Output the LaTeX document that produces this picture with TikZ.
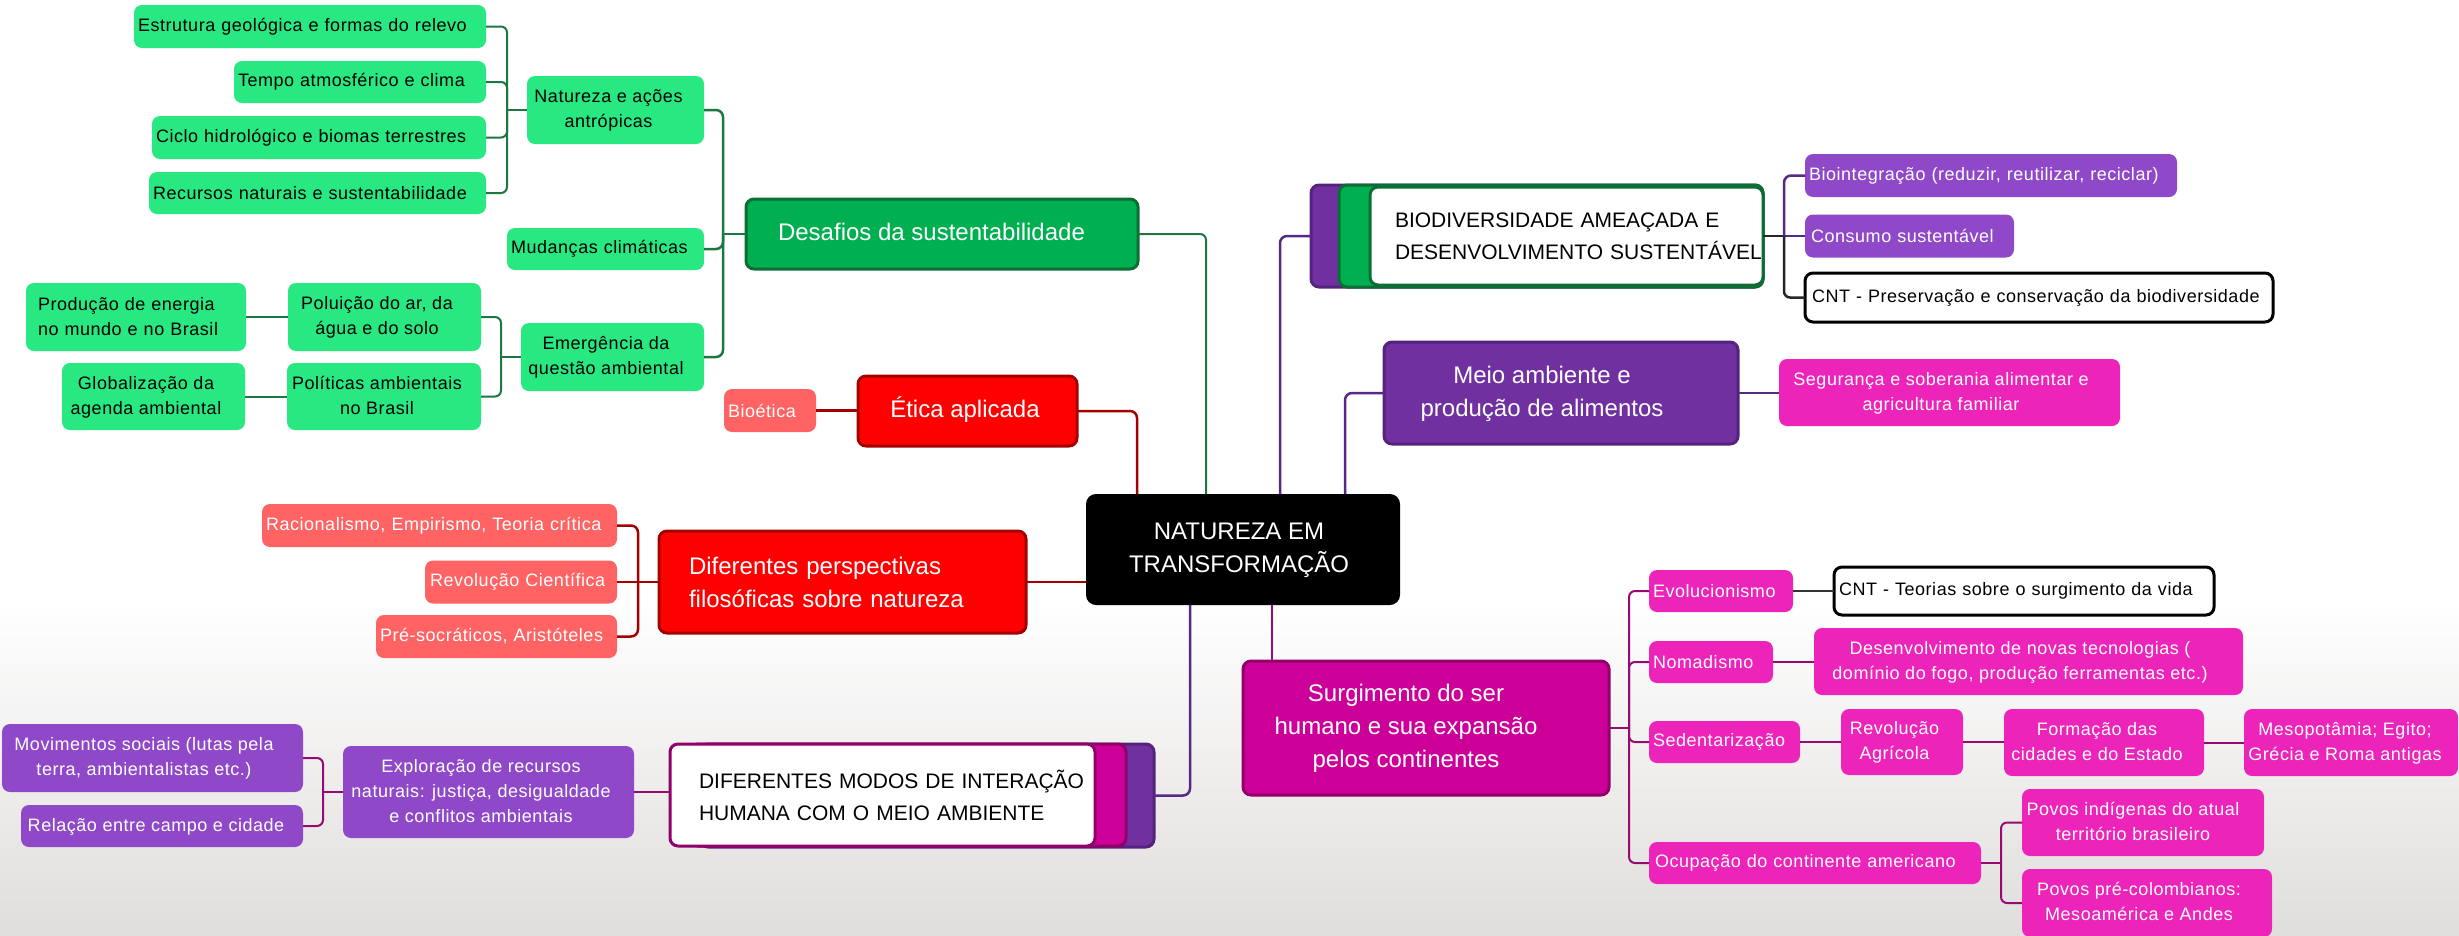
\documentclass[tikz,border=0pt]{standalone}
\usepackage{fontspec}
\setmainfont{Liberation Sans}
\newfontfamily\smf{Liberation Sans}[LetterSpace=3]
\usetikzlibrary{calc}
\definecolor{lgreen}{RGB}{40,233,129}
\definecolor{dgreen}{RGB}{0,176,80}
\definecolor{dgreenB}{RGB}{12,110,52}
\definecolor{glineC}{RGB}{28,120,66}
\definecolor{salmon}{RGB}{255,99,99}
\definecolor{redF}{RGB}{255,0,0}
\definecolor{redB}{RGB}{165,0,0}
\definecolor{purp}{RGB}{112,48,160}
\definecolor{purpB}{RGB}{85,34,125}
\definecolor{lpurp}{RGB}{143,72,200}
\definecolor{mag}{RGB}{204,0,153}
\definecolor{magB}{RGB}{145,0,105}
\definecolor{lmag}{RGB}{236,36,186}
\definecolor{plineC}{RGB}{88,40,135}
\definecolor{mlineC}{RGB}{150,10,115}
\definecolor{bgGray}{RGB}{224,222,220}
\newcommand\myfs[2]{\fontsize{#1}{#2}\selectfont}
\newcommand\ctab[2]{\begin{tabular}{@{}c@{\hspace{#1pt}}}#2\end{tabular}}
\newcommand\ind[1]{\hspace*{#1pt}}
\begin{document}
\begin{tikzpicture}[x=1pt,y=-1pt,
  bx/.style={rounded corners=8pt, inner sep=0pt, outer sep=0pt},
  sz/.style 2 args={minimum width=#1pt, minimum height=#2pt},
  lft/.style={inner xsep=4pt, text width=#1pt, align=left},
  sm/.style={font=\smf\myfs{18}{25}},
  bg/.style={font=\myfs{24}{33}},
  cp/.style={font=\myfs{21}{32}},
  gbox/.style={bx, sm, fill=lgreen, text=black},
  dgbox/.style={bx, bg, fill=dgreen, draw=dgreenB, line width=3pt, text=white},
  salbox/.style={bx, sm, fill=salmon, text=white},
  rbox/.style={bx, bg, fill=redF, draw=redB, line width=3pt, text=white},
  cbox/.style={bx, bg, fill=black, text=white, rounded corners=10pt},
  pbox/.style={bx, bg, fill=purp, draw=purpB, line width=3pt, text=white},
  lpbox/.style={bx, sm, fill=lpurp, text=white},
  lmbox/.style={bx, sm, fill=lmag, text=white},
  mbox/.style={bx, bg, fill=mag, draw=magB, line width=3pt, text=white},
  wgbox/.style={bx, cp, fill=white, draw=dgreenB, line width=3pt, text=black},
  wmbox/.style={bx, cp, fill=white, draw=magB, line width=3pt, text=black},
  wkbox/.style={bx, sm, fill=white, draw=black, line width=3pt, text=black},
  gl/.style={draw=glineC, line width=2pt, rounded corners=6pt},
  gT/.style={draw=glineC, line width=2.5pt, rounded corners=7pt},
  rl/.style={draw=redB, line width=2.5pt, rounded corners=7pt},
  pl/.style={draw=plineC, line width=2.5pt, rounded corners=7pt},
  ml/.style={draw=mlineC, line width=2pt, rounded corners=6pt},
  kl/.style={draw=black!85, line width=2.5pt, rounded corners=6pt}
]
\useasboundingbox (0,0) rectangle (2459,935);
\fill[white] (0,0) rectangle (2459,935);
\shade[top color=white, bottom color=bgGray] (0,600) rectangle (2459,935);

% ---------- green ----------
\node[gbox, sz={352}{43}, lft=344] (estr) at (310,26.5) {Estrutura geológica e formas do relevo};
\node[gbox, sz={252}{42}, lft=244] (tempo) at (360,82) {Tempo atmosférico e clima};
\node[gbox, sz={334}{43}, lft=326] (ciclo) at (319,137.5) {Ciclo hidrológico e biomas terrestres};
\node[gbox, sz={337}{42}, lft=329] (recur) at (317.5,193) {Recursos naturais e sustentabilidade};
\node[gbox, sz={177}{68}] (natur) at (615.5,110) {\ctab{14}{Natureza e ações\\antrópicas}};
\node[gbox, sz={197}{42}, lft=189] (mudan) at (605.5,249) {Mudanças climáticas};
\node[gbox, sz={183}{68}] (emerg) at (612.5,357) {\ctab{13}{Emergência da\\questão ambiental}};
\node[gbox, sz={193}{68}] (polu) at (384.5,317) {\ctab{15}{Poluição do ar, da\\água e do solo}};
\node[gbox, sz={220}{68}, lft=212] (prod) at (136,317) {\ind{8}Produção de energia\\\ind{8}no mundo e no Brasil};
\node[gbox, sz={194}{67}] (polit) at (384,396.5) {\ctab{14}{Políticas ambientais\\no Brasil}};
\node[gbox, sz={183}{67}] (glob) at (153.5,396.5) {\ctab{15}{Globalização da\\agenda ambiental}};
\node[dgbox, sz={392}{70}] (desaf) at (942,234) {\ctab{21}{Desafios da sustentabilidade}};

% ---------- red ----------
\node[salbox, sz={92}{43}, lft=84] (bioet) at (770,410.5) {Bioética};
\node[rbox, sz={219}{70}] (etica) at (967.5,411) {\ctab{5}{Ética aplicada}};
\node[rbox, sz={367}{102}, lft=359] (difp) at (842.5,582) {\ind{26}Diferentes perspectivas\\\ind{26}filosóficas sobre natureza};
\node[salbox, sz={355}{43}, lft=347] (racio) at (439.5,525.5) {\mbox{Racionalismo, Empirismo, Teoria crítica}};
\node[salbox, sz={192}{43}, lft=184] (revci) at (521,582) {\ind{1}Revolução Científica};
\node[salbox, sz={241}{43}, lft=233] (preso) at (496.5,636.5) {Pré-socráticos, Aristóteles};

% ---------- center ----------
\node[cbox, sz={314}{111}] (ctr) at (1243,549.5) {\ctab{8}{NATUREZA EM\\TRANSFORMAÇÃO}};

% ---------- purple (upper right) ----------
\node[pbox, sz={354}{102}] (meio) at (1561,393) {\ctab{38}{Meio ambiente e\\produção de alimentos}};
\node[lmbox, sz={341}{67}] (segur) at (1949.5,392.5) {\ctab{17}{Segurança e soberania alimentar e\\agricultura familiar}};
\node[pbox, sz={452}{102}] (bioP) at (1537,236) {};
\node[dgbox, sz={424}{102}] (bioG) at (1551,236) {};
\node[wgbox, sz={393}{98}, lft=385] (bioW) at (1566.5,236) {\ind{21}\mbox{BIODIVERSIDADE AMEAÇADA E}\\\ind{21}\mbox{DESENVOLVIMENTO SUSTENTÁVEL}};
\node[lpbox, sz={372}{43}, lft=364] (bioin) at (1991,175.5) {\mbox{Biointegração (reduzir, reutilizar, reciclar)}};
\node[lpbox, sz={209}{43}, lft=201] (consu) at (1909.5,236) {\ind{2}Consumo sustentável};
\node[wkbox, sz={468}{49}, lft=460] (cntp) at (2039,297.5) {\ind{3}\mbox{CNT - Preservação e conservação da biodiversidade}};

% ---------- lower left ----------
\node[pbox, sz={454}{103}] (difmP) at (927,795.5) {};
\node[mbox, sz={436}{102}] (difmM) at (908,795) {};
\node[wmbox, sz={425}{102}, lft=417] (difmW) at (882.5,795) {\ind{25}\mbox{DIFERENTES MODOS DE INTERAÇÃO}\\\ind{25}\mbox{HUMANA COM O MEIO AMBIENTE}};
\node[lpbox, sz={291}{92}] (explo) at (488.5,792) {\ctab{15}{Exploração de recursos\\naturais: justiça, desigualdade\\e conflitos ambientais}};
\node[lpbox, sz={301}{68}] (movim) at (152.5,758) {\ctab{17}{Movimentos sociais (lutas pela\\terra, ambientalistas etc.)}};
\node[lpbox, sz={282}{42}] (relac) at (162,826) {\ctab{12}{Relação entre campo e cidade}};

% ---------- magenta ----------
\node[mbox, sz={366}{134}] (surg) at (1426,728) {\ctab{40}{Surgimento do ser\\humano e sua expansão\\pelos continentes}};
\node[lmbox, sz={144}{42}, lft=136] (evol) at (1721,591) {Evolucionismo};
\node[wkbox, sz={380}{48}, lft=372] (cntt) at (2024,591) {\ind{1}\mbox{CNT - Teorias sobre o surgimento da vida}};
\node[lmbox, sz={124}{42}, lft=116] (nomad) at (1711,662) {Nomadismo};
\node[lmbox, sz={429}{67}] (desen) at (2028.5,661.5) {\ctab{17}{Desenvolvimento de novas tecnologias (\\domínio do fogo, produção ferramentas etc.)}};
\node[lmbox, sz={151}{42}, lft=143] (sedent) at (1724.5,742) {Sedentarização};
\node[lmbox, sz={122}{66}] (revag) at (1902,742) {\ctab{15}{Revolução\\Agrícola}};
\node[lmbox, sz={200}{67}] (forma) at (2104,742.5) {\ctab{14}{Formação das\\cidades e do Estado}};
\node[lmbox, sz={214}{67}] (mesop) at (2351,742.5) {\ctab{12}{Mesopotâmia; Egito;\\Grécia e Roma antigas}};
\node[lmbox, sz={332}{42}, lft=324] (ocup) at (1815,863) {\ind{2}\mbox{Ocupação do continente americano}};
\node[lmbox, sz={242}{67}] (povind) at (2143,822.5) {\ctab{20}{Povos indígenas do atual\\território brasileiro}};
\node[lmbox, sz={250}{68}] (povpre) at (2147,903) {\ctab{16}{Povos pré-colombianos:\\Mesoamérica e Andes}};

% ---------- junction coordinates ----------
\coordinate (jNat) at ($(natur.west)+(-20,0)$);
\coordinate (jDes) at ($(desaf.west)+(-23,0)$);
\coordinate (jEme) at ($(emerg.west)+(-20,0)$);
\coordinate (jDif) at ($(difp.west)+(-21,0)$);
\coordinate (jExp) at ($(explo.west)+(-20,0)$);
\coordinate (jBio) at ($(bioW.east)+(21,0)$);
\coordinate (jSur) at ($(surg.east)+(20,0)$);
\coordinate (jOcu) at ($(ocup.east)+(20,0)$);
\coordinate (cDes) at ($(ctr.north west)+(120,0)$);
\coordinate (cEti) at ($(ctr.north west)+(51,0)$);
\coordinate (cBio) at ($(ctr.north west)+(194,0)$);
\coordinate (cMei) at ($(ctr.north west)+(259,0)$);
\coordinate (cDfm) at ($(ctr.south west)+(104,0)$);
\coordinate (cSur) at ($(ctr.south west)+(186,0)$);

% ---------- connectors: green ----------
\draw[gl] (estr.east) -| (jNat);
\draw[gl] (tempo.east) -| (jNat);
\draw[gl] (ciclo.east) -| (jNat);
\draw[gl] (recur.east) -| (jNat);
\draw[gl] (jNat) -- (natur.west);
\draw[gT] (natur.east) -| (jDes);
\draw[gT] (mudan.east) -| (jDes);
\draw[gT] (emerg.east) -| (jDes);
\draw[gT] (jDes) -- (desaf.west);
\draw[gl] (polu.east) -| (jEme);
\draw[gl] (polit.east) -| (jEme);
\draw[gl] (jEme) -- (emerg.west);
\draw[gl] (prod.east) -- (polu.west);
\draw[gl] (glob.east) -- (polit.west);
\draw[gl] (desaf.east) -| (cDes);

% ---------- connectors: red ----------
\draw[rl] (bioet.east) -- (bioet.east -| etica.west);
\draw[rl] (etica.east) -| (cEti);
\draw[rl] (racio.east) -| (jDif);
\draw[rl] (revci.east) -- (jDif);
\draw[rl] (preso.east) -| (jDif);
\draw[rl] (jDif) -- (difp.west);
\draw[rl] (difp.east) -- (difp.east -| ctr.west);

% ---------- connectors: purple ----------
\draw[pl] (bioP.west) -| (cBio);
\draw[pl] (meio.west) -| (cMei);
\draw[pl] (meio.east) -- (meio.east -| segur.west);
\draw[kl] (bioW.east) -- (jBio);
\draw[pl] (bioin.west) -| (jBio);
\draw[pl] (consu.west) -- (jBio);
\draw[kl] (cntp.west) -| (jBio);
\draw[pl] (difmP.east) -| (cDfm);
\draw[ml] (explo.east) -- (explo.east -| difmW.west);
\draw[ml] (movim.east) -| (jExp);
\draw[ml] (relac.east) -| (jExp);
\draw[ml] (jExp) -- (explo.west);

% ---------- connectors: magenta ----------
\draw[ml, line width=2.5pt] (cSur) -- (cSur |- surg.north);
\draw[ml] (surg.east) -- (jSur);
\draw[ml] (evol.west) -| (jSur);
\draw[ml] (nomad.west) -| (jSur);
\draw[ml] (sedent.west) -| (jSur);
\draw[ml] (ocup.west) -| (jSur);
\draw[kl, draw=black!80] (evol.east) -- (cntt.west);
\draw[ml] (nomad.east) -- (nomad.east -| desen.west);
\draw[ml] (sedent.east) -- (revag.west);
\draw[ml] (revag.east) -- (revag.east -| forma.west);
\draw[ml] (forma.east) -- (forma.east -| mesop.west);
\draw[ml] (ocup.east) -- (jOcu);
\draw[ml] (povind.west) -| (jOcu);
\draw[ml] (povpre.west) -| (jOcu);
\end{tikzpicture}
\end{document}
